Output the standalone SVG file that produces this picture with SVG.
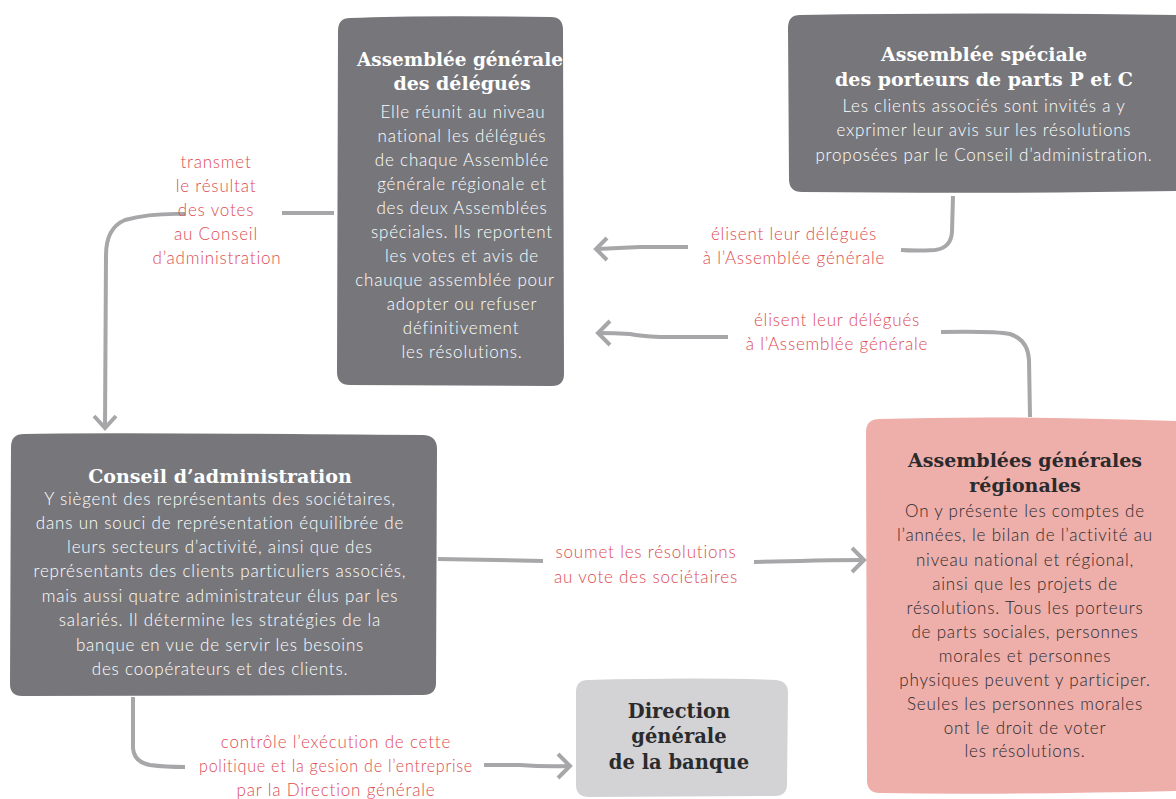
<svg xmlns="http://www.w3.org/2000/svg" width="1176" height="799" viewBox="0 0 1176 799">
  <style>
    .dark { fill: #77777b; }
    .pink { fill: #eeaea9; }
    .light { fill: #d3d3d5; }
    .title { font-family: "DejaVu Serif", "Liberation Serif", serif; font-weight: bold; font-size: 19px; text-anchor: middle; }
    .body { font-family: Lato, "Open Sans", sans-serif; font-weight: 300; font-size: 17px; letter-spacing: 0.8px; text-anchor: middle; }
    .onDark { fill: #ffffff; }
    .onLight { fill: #2b2b2d; }
    .label { font-family: Lato, "Open Sans", sans-serif; font-weight: 300; font-size: 17px; letter-spacing: 0.8px; text-anchor: middle; fill: #dc4c52; }
    .wire { fill: none; stroke: #a7a7aa; stroke-width: 4; stroke-linecap: butt; stroke-linejoin: round; }
    .head { fill: none; stroke: #a7a7aa; stroke-width: 4; stroke-linecap: butt; stroke-linejoin: miter; }
  </style>

  <!-- Assemblée générale des délégués -->
  <g id="ag-delegues">
    <path class="dark" d="M350 18 Q420 15 551 17 Q563 17 563 30 L564 374 Q564 386 552 386 L350 385 Q337 385 337 372 L338 31 Q338 18 350 18 Z"/>
    <text class="title onDark" x="460" y="66" textLength="206" lengthAdjust="spacingAndGlyphs">Assemblée générale</text>
    <text class="title onDark" x="462" y="90">des délégués</text>
    <text class="body onDark" x="463" y="118">Elle réunit au niveau</text>
    <text class="body onDark" x="462" y="142">national les délégués</text>
    <text class="body onDark" x="462" y="166">de chaque Assemblée</text>
    <text class="body onDark" x="462" y="190">générale régionale et</text>
    <text class="body onDark" x="462" y="214">des deux Assemblées</text>
    <text class="body onDark" x="462" y="238">spéciales. Ils reportent</text>
    <text class="body onDark" x="462" y="262">les votes et avis de</text>
    <text class="body onDark" x="455" y="286">chauque assemblée pour</text>
    <text class="body onDark" x="462" y="310">adopter ou refuser</text>
    <text class="body onDark" x="461" y="334">définitivement</text>
    <text class="body onDark" x="462" y="358">les résolutions.</text>
  </g>

  <!-- Assemblée spéciale des porteurs de parts P et C -->
  <g id="ag-speciale">
    <path class="dark" d="M800 15 Q980 12 1176 15 L1176 191 Q1000 194 802 192 Q789 192 789 179 L788 28 Q788 15 800 15 Z"/>
    <text class="title onDark" x="984" y="61">Assemblée spéciale</text>
    <text class="title onDark" x="984" y="86">des porteurs de parts P et C</text>
    <text class="body onDark" x="984" y="112">Les clients associés sont invités a y</text>
    <text class="body onDark" x="984" y="136">exprimer leur avis sur les résolutions</text>
    <text class="body onDark" x="984" y="161">proposées par le Conseil d’administration.</text>
  </g>

  <!-- Conseil d'administration -->
  <g id="conseil">
    <path class="dark" d="M24 434 Q90 432 424 435 Q437 436 437 449 L436 683 Q436 695 423 695 L22 696 Q10 696 10 684 L11 447 Q11 434 24 434 Z"/>
    <text class="title onDark" x="220" y="483">Conseil d’administration</text>
    <text class="body onDark" x="220" y="505">Y siègent des représentants des sociétaires,</text>
    <text class="body onDark" x="220" y="529">dans un souci de représentation équilibrée de</text>
    <text class="body onDark" x="220" y="553">leurs secteurs d’activité, ainsi que des</text>
    <text class="body onDark" x="220" y="577">représentants des clients particuliers associés,</text>
    <text class="body onDark" x="220" y="602">mais aussi quatre administrateur élus par les</text>
    <text class="body onDark" x="220" y="626">salariés. Il détermine les stratégies de la</text>
    <text class="body onDark" x="220" y="651">banque en vue de servir les besoins</text>
    <text class="body onDark" x="220" y="675">des coopérateurs et des clients.</text>
  </g>

  <!-- Assemblées générales régionales -->
  <g id="ag-regionales">
    <path class="pink" d="M880 419 Q1000 415 1176 421 L1176 791 Q1000 795 880 793 Q867 793 867 780 L866 432 Q866 419 880 419 Z"/>
    <text class="title onLight" x="1025" y="467">Assemblées générales</text>
    <text class="title onLight" x="1025" y="492">régionales</text>
    <text class="body onLight" x="1025" y="517">On y présente les comptes de</text>
    <text class="body onLight" x="1025" y="541">l’années, le bilan de l’activité au</text>
    <text class="body onLight" x="1025" y="566">niveau national et régional,</text>
    <text class="body onLight" x="1025" y="590">ainsi que les projets de</text>
    <text class="body onLight" x="1025" y="614">résolutions. Tous les porteurs</text>
    <text class="body onLight" x="1025" y="638">de parts sociales, personnes</text>
    <text class="body onLight" x="1025" y="662">morales et personnes</text>
    <text class="body onLight" x="1025" y="686">physiques peuvent y participer.</text>
    <text class="body onLight" x="1025" y="710">Seules les personnes morales</text>
    <text class="body onLight" x="1025" y="734">ont le droit de voter</text>
    <text class="body onLight" x="1025" y="757">les résolutions.</text>
  </g>

  <!-- Direction générale de la banque -->
  <g id="direction">
    <path class="light" d="M588 680 Q700 677 776 680 Q788 681 788 693 L787 784 Q787 796 775 796 L589 797 Q576 797 576 785 L576 692 Q576 680 588 680 Z"/>
    <text class="title onLight" x="679" y="718" style="font-size:19.5px">Direction</text>
    <text class="title onLight" x="679" y="743" style="font-size:19.5px">générale</text>
    <text class="title onLight" x="679" y="769" style="font-size:19.5px">de la banque</text>
  </g>

  <!-- connectors and their labels -->
  <g id="connectors">
    <!-- AG des délégués to Conseil d'administration -->
    <path class="wire" d="M334 213 L282 213"/>
    <path class="wire" d="M185 214 Q150 213 125 220 Q106 228 106 255 L105 428"/>
    <path class="head" d="M94 416 L105 428 L116 416"/>
    <text class="label" x="216" y="168">transmet</text>
    <text class="label" x="216" y="192">le résultat</text>
    <text class="label" x="216" y="216">des votes</text>
    <text class="label" x="216" y="240">au Conseil</text>
    <text class="label" x="217" y="264">d’administration</text>

    <!-- Assemblée spéciale to AG des délégués -->
    <path class="wire" d="M953 196 L952 232 Q951 248 935 250 Q915 251 901 250"/>
    <path class="wire" d="M688 247 L640 247 Q620 248 597 249"/>
    <path class="head" d="M607 238 L596 249 L607 260"/>
    <text class="label" x="794" y="240">élisent leur délégués</text>
    <text class="label" x="794" y="264">à l’Assemblée générale</text>

    <!-- AG régionales to AG des délégués -->
    <path class="wire" d="M1030 417 L1029 360 Q1028 340 1010 334 Q995 331 941 332"/>
    <path class="wire" d="M728 337 L660 337 Q640 336 630 334 Q615 333 598 333"/>
    <path class="head" d="M610 321 L598 333 L610 345"/>
    <text class="label" x="837" y="326">élisent leur délégués</text>
    <text class="label" x="837" y="350">à l’Assemblée générale</text>

    <!-- Conseil to AG régionales -->
    <path class="wire" d="M438 559 L543 561"/>
    <path class="wire" d="M754 562 L800 561 Q830 560 864 560"/>
    <path class="head" d="M852 548 L864 560 L852 572"/>
    <text class="label" x="646" y="558">soumet les résolutions</text>
    <text class="label" x="646" y="583">au vote des sociétaires</text>

    <!-- Conseil to Direction générale -->
    <path class="wire" d="M133 697 L133 748 Q134 762 150 765 Q165 767 185 767"/>
    <path class="wire" d="M484 765 L520 765 Q545 767 570 766"/>
    <path class="head" d="M558 754 L570 766 L558 778"/>
    <text class="label" x="336" y="748">contrôle l’exécution de cette</text>
    <text class="label" x="336" y="772" textLength="274" lengthAdjust="spacingAndGlyphs">politique et la gesion de l’entreprise</text>
    <text class="label" x="336" y="796">par la Direction générale</text>
  </g>
</svg>
